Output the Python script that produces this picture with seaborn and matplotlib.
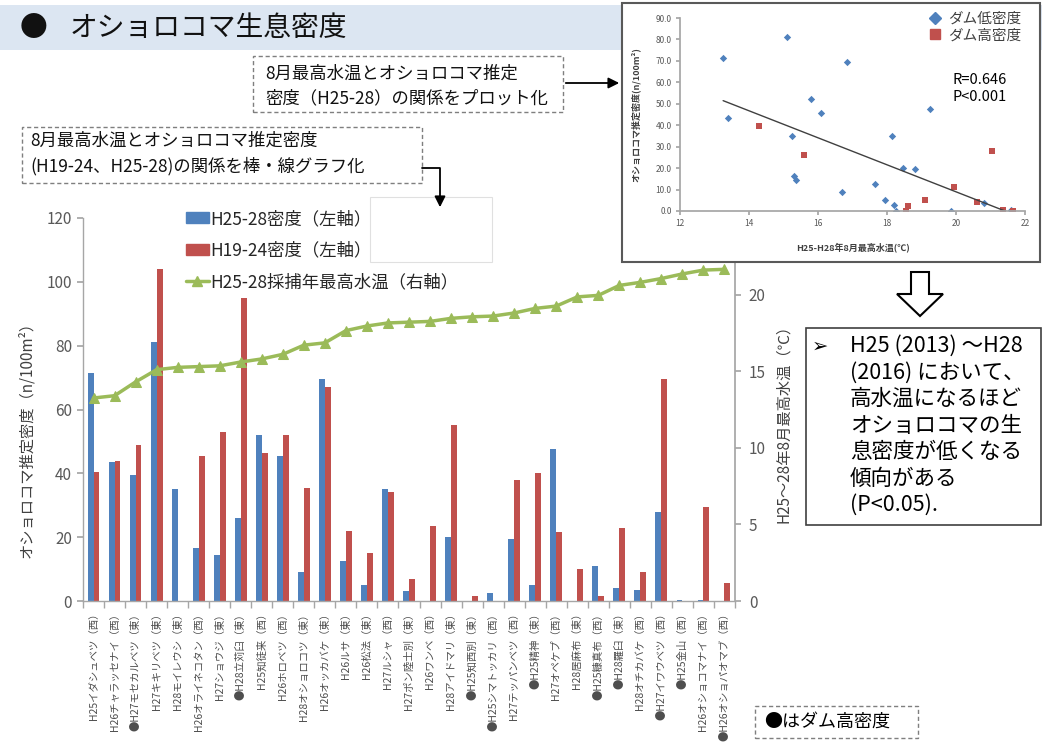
import numpy as np
import pandas as pd
import matplotlib
matplotlib.use("Agg")
import matplotlib.pyplot as plt
import seaborn as sns
from matplotlib.patches import Rectangle, Polygon, Patch, FancyArrowPatch
from matplotlib.lines import Line2D

# ---------------- data ----------------
sites = [
    "H25イダシュベツ（西）", "H26チャラッセナイ（西）", "H27モセカルベツ（東）", "H27キキリベツ（東）",
    "H28モイレウシ（東）", "H26オライネコタン（西）", "H27ショウジ（東）", "H28立苅臼（東）",
    "H25知徒来（西）", "H26ホロベツ（西）", "H28オショロコツ（東）", "H26オッカバケ（東）",
    "H26ルサ（東）", "H26松法（東）", "H27ルシャ（西）", "H27ポン陸士別（東）",
    "H26ワンベ（西）", "H28アイドマリ（東）", "H25知西別（東）", "H25シマトッカリ（西）",
    "H27テッパンベツ（西）", "H25精神（東）", "H27オペケプ（西）", "H28居麻布（東）",
    "H25糠真布（西）", "H28羅臼（東）", "H28オチカバケ（西）", "H27イワウベツ（西）",
    "H25金山（西）", "H26オショコマナイ（西）", "H26オショパオマブ（西）",
]
dam_high = [0, 0, 1, 0, 0, 0, 0, 1, 0, 0, 0, 0, 0, 0, 0, 0,
            0, 0, 1, 1, 0, 1, 0, 0, 1, 1, 0, 1, 1, 0, 1]
dens_h25_28 = [71.5, 43.5, 39.5, 81.0, 35.0, 16.5, 14.5, 26.0, 52.0, 45.5, 9.0, 69.5,
               12.5, 5.0, 35.0, 3.0, 0.0, 20.0, 0.0, 2.5, 19.5, 5.0, 47.5, 0.0,
               11.0, 4.0, 3.5, 28.0, 0.3, 0.3, 0.0]
dens_h19_24 = [40.5, 44.0, 49.0, 104.0, 0.0, 45.5, 53.0, 95.0, 46.5, 52.0, 35.5, 67.0,
               22.0, 15.0, 34.0, 7.0, 23.5, 55.0, 1.5, 0.0, 38.0, 40.0, 21.5, 10.0,
               1.5, 23.0, 9.0, 69.5, 0.0, 29.5, 5.5]
max_temp = [13.25, 13.4, 14.3, 15.1, 15.25, 15.3, 15.35, 15.6, 15.8, 16.1, 16.7, 16.85,
            17.65, 17.95, 18.15, 18.2, 18.25, 18.45, 18.55, 18.6, 18.8, 19.1, 19.25, 19.85,
            19.95, 20.6, 20.8, 21.05, 21.35, 21.6, 21.65]

label_a = "H25-28密度（左軸）"
label_b = "H19-24密度（左軸）"
label_t = "H25-28採捕年最高水温（右軸）"
scatter_labels = ["ダム低密度", "ダム高密度"]

BLUE, RED, GREEN = "#4F81BD", "#C0504D", "#9BBB59"
GRAY_AX, GRAY_TX = "#A6A6A6", "#595959"

# ---------------- figure ----------------
sns.set_theme(style="white")
plt.rcParams["font.family"] = ["Noto Sans CJK JP", "DejaVu Sans"]

W, H = 1042, 745
fig = plt.figure(figsize=(W / 100, H / 100), dpi=100)
fig.patch.set_facecolor("white")


def fx(x):
    return x / W


def fy(y):
    return 1 - y / H


def rect(x0, y0, x1, y1, **kw):
    r = Rectangle((fx(x0), fy(y1)), (x1 - x0) / W, (y1 - y0) / H,
                  transform=fig.transFigure, **kw)
    fig.add_artist(r)
    return r


def ftext(x, y, s, **kw):
    kw.setdefault("zorder", 10)
    return fig.text(fx(x), fy(y), s, **kw)


n = len(sites)
xlabels = [("●" if d else "") + s for s, d in zip(sites, dam_high)]

# ---------------- main chart ----------------
ax = fig.add_axes([fx(83), fy(601), 652 / W, 383 / H])
df = pd.DataFrame({
    "site": sites * 2,
    "density": dens_h25_28 + dens_h19_24,
    "period": [label_a] * n + [label_b] * n,
})
sns.barplot(data=df, x="site", y="density", hue="period", palette=[BLUE, RED],
            width=0.56, saturation=1, linewidth=0, ax=ax, legend=False)
ax.set_xlim(-0.5, n - 0.5)
ax.set_ylim(0, 120)
ax.set_yticks(np.arange(0, 121, 20))
ax.set_xticks(np.arange(n))
ax.set_xticklabels(xlabels, rotation=90, fontsize=7.5, color="#4d4d4d")
ax.set_xticks(np.arange(-0.5, n, 1), minor=True)
ax.set_xlabel("")
ax.set_ylabel("")
ax.tick_params(axis="x", which="major", length=0, pad=5, bottom=True)
ax.tick_params(axis="x", which="minor", length=5, color=GRAY_AX, direction="out", bottom=True)
ax.tick_params(axis="y", length=4, color=GRAY_AX, direction="out", left=True,
               labelsize=11, labelcolor=GRAY_TX, pad=4)
for s in ["top", "right"]:
    ax.spines[s].set_visible(False)
for s in ["left", "bottom"]:
    ax.spines[s].set_color(GRAY_AX)
    ax.spines[s].set_linewidth(1.0)

ax2 = ax.twinx()
sns.lineplot(x=np.arange(n), y=max_temp, ax=ax2, color=GREEN, marker="^",
             markersize=7, markeredgecolor=GREEN, linewidth=2.5)
ax2.set_ylim(0, 25)
ax2.set_yticks([0, 5, 10, 15, 20])
ax2.set_xlim(-0.5, n - 0.5)
ax2.set_ylabel("")
ax2.tick_params(axis="y", length=4, color=GRAY_AX, direction="out", right=True,
                labelsize=11, labelcolor=GRAY_TX, pad=6)
for s in ["top", "left", "bottom"]:
    ax2.spines[s].set_visible(False)
ax2.spines["right"].set_color(GRAY_AX)

handles = [Patch(color=BLUE), Patch(color=RED),
           Line2D([], [], color=GREEN, marker="^", lw=2.5, markersize=7)]
ax2.legend(handles, [label_a, label_b, label_t], loc="upper left",
           bbox_to_anchor=(fx(186), fy(210)), bbox_transform=fig.transFigure,
           frameon=False, fontsize=12.5, labelspacing=0.78, handlelength=1.3,
           handleheight=0.6, handletextpad=0.1, borderpad=0, borderaxespad=0)

# white box that hides the legend tail
rect(370, 197, 492, 262, facecolor="white", edgecolor="#E0E0E0", lw=0.8, zorder=3)

# axis titles
ftext(27, 436, "オショロコマ推定密度（n/100m²）", rotation=90, ha="center", va="center",
      fontsize=11, color="#404040")
ftext(784, 420, "H25～28年8月最高水温（℃）", rotation=90, ha="center", va="center",
      fontsize=11, color="#404040")

# ---------------- title band ----------------
rect(0, 5, W, 50, facecolor="#DCE6F2", edgecolor="none", zorder=0.5)
ftext(20, 28, "●", fontsize=20, va="center", ha="left", color="#111111")
ftext(70, 28, "オショロコマ生息密度", fontsize=20, va="center", ha="left", color="#111111")

# ---------------- annotation boxes ----------------
dash = (0, (3, 2))
rect(253, 56, 563, 112, facecolor="white", edgecolor="#7F7F7F", lw=1.0, ls=dash, zorder=4)
ftext(265, 74, "8月最高水温とオショロコマ推定", fontsize=12.5, va="center", color="#111111")
ftext(265, 98, "密度（H25-28）の関係をプロット化", fontsize=12.5, va="center", color="#111111")
fig.add_artist(FancyArrowPatch((fx(563), fy(83)), (fx(622), fy(83)), transform=fig.transFigure,
                               arrowstyle="-|>", mutation_scale=16, color="black", lw=1.3, zorder=9))

rect(22, 127, 422, 183, facecolor="white", edgecolor="#7F7F7F", lw=1.0, ls=dash, zorder=4)
ftext(30, 141, "8月最高水温とオショロコマ推定密度", fontsize=12.5, va="center", color="#111111")
ftext(30, 166, "(H19-24、H25-28)の関係を棒・線グラフ化", fontsize=12.5, va="center", color="#111111")
fig.add_artist(Line2D([fx(422), fx(440), fx(440)], [fy(168), fy(168), fy(196)],
                      transform=fig.transFigure, color="black", lw=1.3, zorder=9))
fig.add_artist(FancyArrowPatch((fx(440), fy(194)), (fx(440), fy(210)), transform=fig.transFigure,
                               arrowstyle="-|>", mutation_scale=16, color="black", lw=1.3, zorder=9))

# ---------------- inset scatter ----------------
rect(622, 3, 1040, 262, facecolor="white", edgecolor="#595959", lw=1.5, zorder=5)
axin = fig.add_axes([fx(680), fy(211), 345 / W, 193 / H])
axin.set_zorder(6)
axin.patch.set_alpha(0)
sc = pd.DataFrame({"temp": max_temp, "dens": dens_h25_28,
                   "dam": [scatter_labels[d] for d in dam_high]})
sns.regplot(data=sc, x="temp", y="dens", scatter=False, ci=None, ax=axin,
            line_kws=dict(color="#404040", lw=1.0))
low = sc[sc["dam"] == scatter_labels[0]]
high = sc[sc["dam"] == scatter_labels[1]]
sns.scatterplot(data=low, x="temp", y="dens", marker="D", color=BLUE, s=14,
                linewidth=0, ax=axin, legend=False)
sns.scatterplot(data=high, x="temp", y="dens", marker="s", color=RED, s=22,
                linewidth=0, ax=axin, legend=False)
axin.set_xlim(12, 22)
axin.set_ylim(0, 90)
axin.set_xticks(np.arange(12, 23, 2))
axin.set_yticks(np.arange(0, 91, 10))
axin.set_yticklabels([f"{v:.1f}" for v in np.arange(0, 91, 10)])
axin.tick_params(labelsize=6, labelcolor=GRAY_TX, length=3, color=GRAY_AX,
                 direction="out", left=True, bottom=True, pad=3)
for s in ["top", "right"]:
    axin.spines[s].set_visible(False)
for s in ["left", "bottom"]:
    axin.spines[s].set_color(GRAY_AX)
axin.set_xlabel("")
axin.set_ylabel("")
ftext(853, 247, "H25-H28年8月最高水温(℃)", fontsize=6.5, ha="center", va="center",
      color="#404040", fontweight="bold")
ftext(636, 115, "オショロコマ推定密度(n/100m²)", fontsize=6.5, ha="center", va="center",
      rotation=90, color="#404040", fontweight="bold")
in_handles = [Line2D([], [], ls="none", marker="D", color=BLUE, markersize=6),
              Line2D([], [], ls="none", marker="s", color=RED, markersize=7)]
leg2 = axin.legend(in_handles, scatter_labels, loc="upper left",
                   bbox_to_anchor=(fx(928), fy(12)), bbox_transform=fig.transFigure,
                   frameon=False, fontsize=10.5, labelspacing=0.15, handlelength=1.0,
                   handletextpad=0.4, borderpad=0, borderaxespad=0)
for t in leg2.get_texts():
    t.set_color("#404040")
ftext(953, 80, "R=0.646", fontsize=10.5, va="center", color="black")
ftext(953, 97, "P<0.001", fontsize=10.5, va="center", color="black")

# ---------------- hollow down arrow ----------------
arrow_pts = [(911, 272), (929, 272), (929, 294), (943, 294), (920, 316), (897, 294), (911, 294)]
fig.add_artist(Polygon([(fx(x), fy(y)) for x, y in arrow_pts], closed=True,
                       transform=fig.transFigure, facecolor="white", edgecolor="black",
                       lw=1.5, zorder=6))

# ---------------- conclusion box ----------------
rect(806, 328, 1041, 525, facecolor="white", edgecolor="#404040", lw=1.2, zorder=6)
ftext(812, 346, "➢", fontsize=14, va="center", ha="left", color="black",
      family=["DejaVu Sans"])
lines = ["H25 (2013) ～H28", "(2016) において、", "高水温になるほど", "オショロコマの生",
         "息密度が低くなる", "傾向がある", "(P<0.05)."]
for i, s in enumerate(lines):
    ftext(850, 346 + 26.5 * i, s, fontsize=15.5, va="center", ha="left", color="black")

# ---------------- legend note ----------------
rect(755, 706, 918, 738, facecolor="white", edgecolor="#7F7F7F", lw=1.0, ls=dash, zorder=6)
ftext(764, 722, "●はダム高密度", fontsize=13, va="center", ha="left", color="black")

fig.savefig("out.png", dpi=100)
